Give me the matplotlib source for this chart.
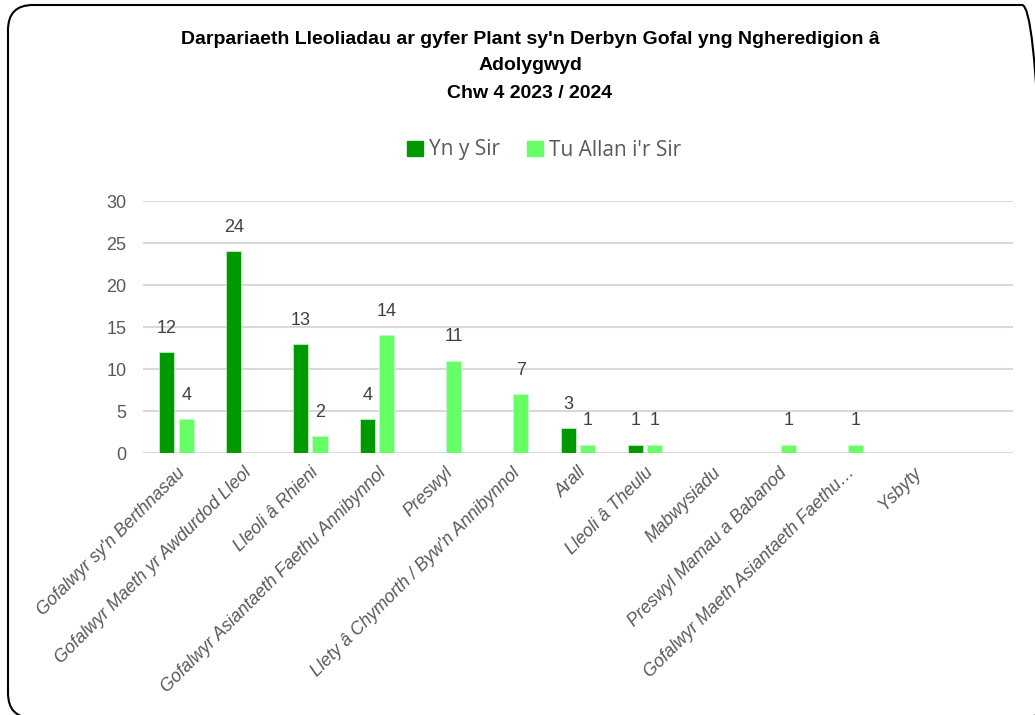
import matplotlib
matplotlib.use("Agg")
import matplotlib.pyplot as plt
from matplotlib.patches import Patch, FancyBboxPatch

categories = ["Gofalwyr sy'n Berthnasau", "Gofalwyr Maeth yr Awdurdod Lleol", "Lleoli â Rhieni",
              "Gofalwyr Asiantaeth Faethu Annibynnol", "Preswyl", "Llety â Chymorth / Byw'n Annibynnol",
              "Arall", "Lleoli â Theulu", "Mabwysiadu", "Preswyl Mamau a Babanod",
              "Gofalwyr Maeth Asiantaeth Faethu…", "Ysbyty", ""]
yn_y_sir = [12, 24, 13, 4, 0, 0, 3, 1, 0, 0, 0, 0, 0]
tu_allan = [4, 0, 2, 14, 11, 7, 1, 1, 0, 1, 1, 0, 0]
series_names = ["Yn y Sir", "Tu Allan i'r Sir"]
colors = ["#009900", "#66FF66"]
yticks = [0, 5, 10, 15, 20, 25, 30]

W, H = 1035, 715
fig = plt.figure(figsize=(W/100, H/100), dpi=100)
ax = fig.add_axes([143/W, 1-453/H, (1013-143)/W, (453-201)/H])

gray = "#595959"
x = list(range(len(categories)))
bw = 0.225
off = 0.145
for vals, c, sgn in [(yn_y_sir, colors[0], -1), (tu_allan, colors[1], 1)]:
    xs = [i + sgn*off for i, v in zip(x, vals) if v > 0]
    vs = [v for v in vals if v > 0]
    ax.bar(xs, vs, width=bw, color=c, edgecolor="#ccf5cc", linewidth=0.5, zorder=3)
    for xi, v in zip(xs, vs):
        ax.annotate(str(v), (xi, v), xytext=(0, 11), textcoords="offset points",
                    ha="center", va="bottom", fontsize=13, color="#404040",
                    family="Liberation Sans")

ax.set_xlim(-0.5, len(categories)-0.5)
ax.set_ylim(0, 30)
ax.set_yticks(yticks)
ax.set_yticklabels([str(t) for t in yticks], fontsize=13, color=gray, family="Liberation Sans")
ax.grid(axis="y", color="#d9d9d9", linewidth=1.5, zorder=0)
ax.set_axisbelow(True)
for s in ax.spines.values():
    s.set_visible(False)
ax.tick_params(axis="both", length=0)
ax.tick_params(axis="y", pad=12)
ax.set_xticks(x)
ax.set_xticklabels(categories, rotation=45, ha="right", rotation_mode="anchor",
                   fontsize=12.8, color=gray, style="italic", family="Liberation Sans")
ax.tick_params(axis="x", pad=8)

tkw = dict(ha="center", va="center", fontsize=14, fontweight="bold", family="Liberation Sans")
fig.text(530/W, 1-40/H, "Darpariaeth Lleoliadau ar gyfer Plant sy'n Derbyn Gofal yng Ngheredigion â", **tkw)
fig.text(530/W, 1-66/H, "Adolygwyd", **tkw)
fig.text(530/W, 1-94/H, "Chw 4 2023 / 2024", **tkw)

handles = [Patch(color=c, label=n) for c, n in zip(colors, series_names)]
leg = fig.legend(handles=handles, loc="center", bbox_to_anchor=(544/W, 1-150/H), ncol=2,
                 frameon=False, handlelength=0.75, handleheight=0.75,
                 handletextpad=0.3, columnspacing=1.3, prop={"family": "Open Sans", "size": 15})
for t in leg.get_texts():
    t.set_color(gray)

border = FancyBboxPatch((8, H-718), 1039, 713,
                        boxstyle="round,pad=0,rounding_size=25",
                        transform=None, fill=False, edgecolor="black", linewidth=1.5)
fig.patches.append(border)

fig.savefig("out.png", dpi=100)
